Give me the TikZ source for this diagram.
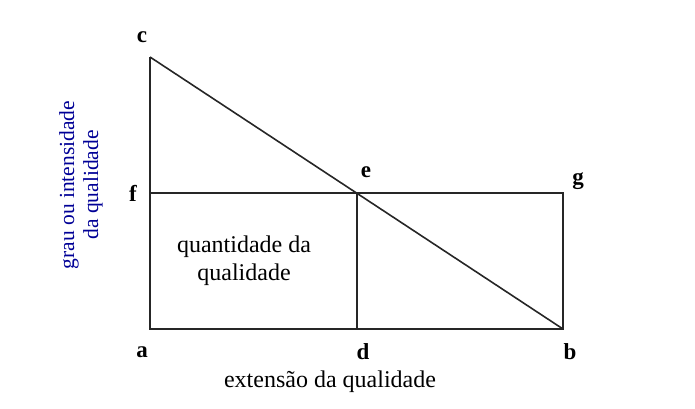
\documentclass[tikz,border=0pt]{standalone}
\usepackage{fontspec}
\setmainfont{Liberation Serif}
\definecolor{axisblue}{RGB}{0,0,150}
\begin{document}
\begin{tikzpicture}[x=1pt,y=-1pt,
  edge/.style={line width=1.6pt,black!85},
  lbl/.style={font=\fontsize{23}{24}\selectfont\bfseries},
  txt/.style={font=\fontsize{24}{28}\selectfont,align=center}]
\useasboundingbox (0,0) rectangle (695,408);
\coordinate (a) at (150,329);
\coordinate (b) at (563,329);
\coordinate (c) at (150,57);
\coordinate (d) at (357,329);
\coordinate (e) at (357,193);
\coordinate (f) at (150,193);
\coordinate (g) at (563,193);
\draw[edge] (c) -- (a) -- (b) -- (g) -- (f);
\draw[edge] (d) -- (e);
\draw[edge] (c) -- (b);
\node[lbl] (la) at (142,352) {a};
\node[lbl] (lb) at (570,352) {b};
\node[lbl] (lc) at (142,37) {c};
\node[lbl] (ld) at (363,352) {d};
\node[lbl] (le) at (366,172) {e};
\node[lbl] (lf) at (133,193) {f};
\node[lbl] (lg) at (578,181) {g};
\node[txt] (q) at (244,261) {quantidade da\\qualidade};
\node[txt] (x) at (330,382) {extensão da qualidade};
\node[txt,text=axisblue,rotate=90,font=\fontsize{21.5}{24}\selectfont] (y) at (81,185) {grau ou intensidade\\da qualidade};
\end{tikzpicture}
\end{document}
